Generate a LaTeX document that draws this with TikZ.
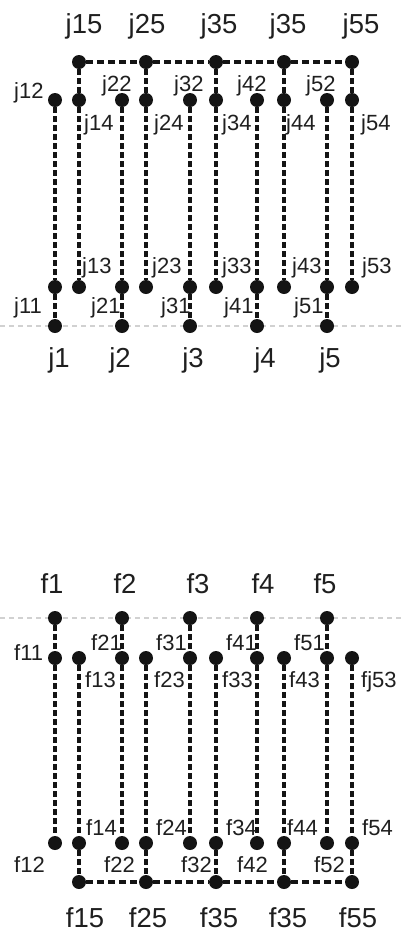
\documentclass[tikz,border=0pt]{standalone}
\usepackage{fontspec}
\setmainfont{Liberation Sans}
\begin{document}
\begin{tikzpicture}[x=1pt,y=-1pt,
 dot/.style={circle,fill=black!92,inner sep=0pt,minimum size=14pt},
 vdash/.style={line width=3.2pt,dash pattern=on 6pt off 3pt,black!92},
 hdash/.style={line width=3.2pt,dash pattern=on 7pt off 4pt,black!92},
 guide/.style={line width=1.6pt,dash pattern=on 5pt off 4pt,black!18},
 big/.style={font=\fontsize{27.5}{32}\selectfont,text=black!88,inner sep=0pt,anchor=base},
 small/.style={font=\fontsize{22}{26}\selectfont,text=black!88,inner sep=0pt,anchor=base west}]
\useasboundingbox (0,0) rectangle (401,932);
% faint guide lines
\coordinate (gl1) at (0,326); \coordinate (gr1) at (401,326);
\coordinate (gl2) at (0,618); \coordinate (gr2) at (401,618);
\draw[guide] (gl1) -- (gr1);
\draw[guide] (gl2) -- (gr2);
% top structure
\foreach \i/\a/\b in {1/55/79,2/122/146,3/190/216,4/257/284,5/327/352} {
 \node[dot] (j\i5) at (\b,62) {};
 \node[dot] (j\i4) at (\b,100) {};
 \node[dot] (j\i3) at (\b,287) {};
 \node[dot] (j\i2) at (\a,100) {};
 \node[dot] (j\i1) at (\a,287) {};
 \node[dot] (j\i) at (\a,326) {};
 \draw[vdash] (j\i2) -- (j\i1) -- (j\i);
 \draw[vdash] (j\i5) -- (j\i4) -- (j\i3);
}
\draw[hdash] (j15) -- (j25) -- (j35) -- (j45) -- (j55);
% bottom structure
\foreach \i/\a/\b in {1/55/79,2/122/146,3/190/216,4/257/284,5/327/352} {
 \node[dot] (f\i) at (\a,618) {};
 \node[dot] (f\i1) at (\a,658) {};
 \node[dot] (f\i2) at (\a,843) {};
 \node[dot] (f\i3) at (\b,658) {};
 \node[dot] (f\i4) at (\b,843) {};
 \node[dot] (f\i5) at (\b,882) {};
 \draw[vdash] (f\i) -- (f\i1) -- (f\i2);
 \draw[vdash] (f\i3) -- (f\i4) -- (f\i5);
}
\draw[hdash] (f15) -- (f25) -- (f35) -- (f45) -- (f55);
% big labels top
\node[big] (lj15) at (84,33) {j15};
\node[big] (lj25) at (147,33) {j25};
\node[big] (lj35) at (219,33) {j35};
\node[big] (lj45) at (288,33) {j35};
\node[big] (lj55) at (361,33) {j55};
\node[big] (lj1) at (59,367) {j1};
\node[big] (lj2) at (120,367) {j2};
\node[big] (lj3) at (193,367) {j3};
\node[big] (lj4) at (265,367) {j4};
\node[big] (lj5) at (330,367) {j5};
% small labels top
\node[small] (lj12) at (14,98) {j12};
\node[small] (lj22) at (102,91) {j22};
\node[small] (lj32) at (174,91) {j32};
\node[small] (lj42) at (237,91) {j42};
\node[small] (lj52) at (306,91) {j52};
\node[small] (lj14) at (84,130) {j14};
\node[small] (lj24) at (154,130) {j24};
\node[small] (lj34) at (222,130) {j34};
\node[small] (lj44) at (286,130) {j44};
\node[small] (lj54) at (361,130) {j54};
\node[small] (lj13) at (82,273) {j13};
\node[small] (lj23) at (152,273) {j23};
\node[small] (lj33) at (222,273) {j33};
\node[small] (lj43) at (292,273) {j43};
\node[small] (lj53) at (362,273) {j53};
\node[small] (lj11) at (14,313) {j11};
\node[small] (lj21) at (91,313) {j21};
\node[small] (lj31) at (161,313) {j31};
\node[small] (lj41) at (224,313) {j41};
\node[small] (lj51) at (294,313) {j51};
% big labels bottom
\node[big] (lf1) at (52,593) {f1};
\node[big] (lf2) at (125,593) {f2};
\node[big] (lf3) at (198,593) {f3};
\node[big] (lf4) at (263,593) {f4};
\node[big] (lf5) at (325,593) {f5};
\node[big] (lf15) at (85,927) {f15};
\node[big] (lf25) at (148,927) {f25};
\node[big] (lf35) at (219,927) {f35};
\node[big] (lf45) at (288,927) {f35};
\node[big] (lf55) at (358,927) {f55};
% small labels bottom
\node[small] (lf11) at (14,660) {f11};
\node[small] (lf21) at (91,650) {f21};
\node[small] (lf31) at (156,650) {f31};
\node[small] (lf41) at (226,650) {f41};
\node[small] (lf51) at (294,650) {f51};
\node[small] (lf13) at (85,687) {f13};
\node[small] (lf23) at (154,687) {f23};
\node[small] (lf33) at (222,687) {f33};
\node[small] (lf43) at (289,687) {f43};
\node[small] (lf53) at (361,687) {fj53};
\node[small] (lf14) at (86,835) {f14};
\node[small] (lf24) at (156,835) {f24};
\node[small] (lf34) at (226,835) {f34};
\node[small] (lf44) at (287,835) {f44};
\node[small] (lf54) at (362,835) {f54};
\node[small] (lf12) at (14,872) {f12};
\node[small] (lf22) at (104,872) {f22};
\node[small] (lf32) at (181,872) {f32};
\node[small] (lf42) at (237,872) {f42};
\node[small] (lf52) at (314,872) {f52};
\end{tikzpicture}
\end{document}
